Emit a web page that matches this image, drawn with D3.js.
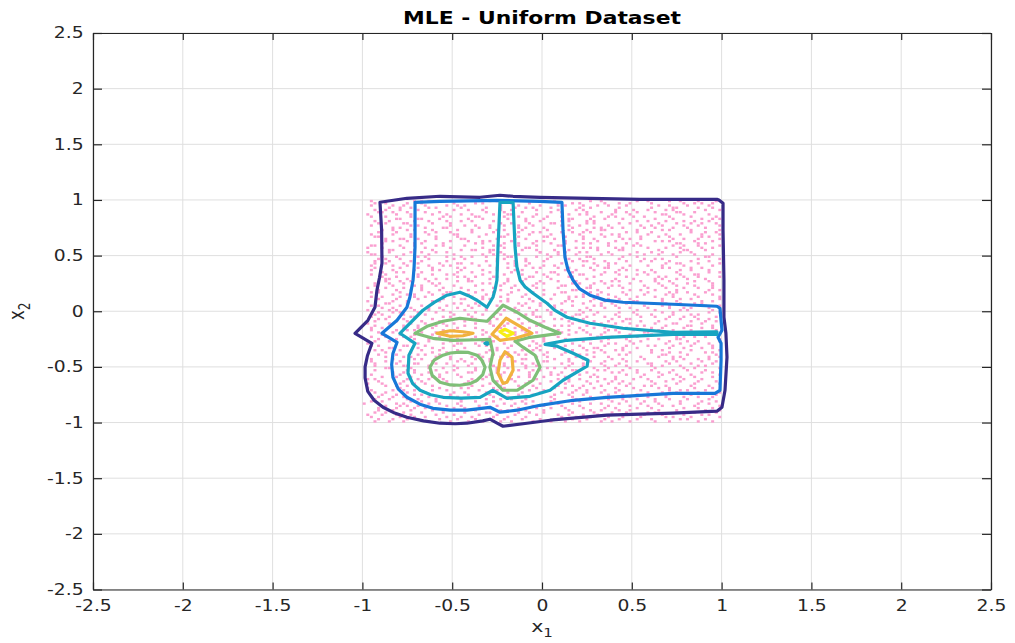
<!DOCTYPE html>
<html>
<head>
<meta charset="utf-8">
<script src="https://cdn.jsdelivr.net/npm/d3@7"></script>
<style>
  body { margin: 0; background: #fff; }
  svg { display: block; }
</style>
</head>
<body>
<svg id="chart" width="1015" height="643"></svg>
<script>
// ---- tick values ----
const xTicks = [-2.5, -2, -1.5, -1, -0.5, 0, 0.5, 1, 1.5, 2, 2.5];
const yTicks = [-2.5, -2, -1.5, -1, -0.5, 0, 0.5, 1, 1.5, 2, 2.5];

// ---- uniform sample on [-1,1]^2, stored row by row on a 0.02 grid ----
// row r holds the x-cell indices (0..99) of the samples in y-cell r
const sampleRows = [
"07 93 41 18 66 29 85 52 03 74 38 11 97 60 24 81 47 69 33 56",
"15 62 88 04 39 71 26 53 95 12 80 44 67 31 08 58 76 21 90 49",
"02 36 77 59 14 91 45 23 68 84 10 55 99 30 72 17 63 40 86 27",
"48 09 83 61 25 96 37 70 13 54 89 05 42 78 20 65 32 94 57 01",
"73 28 50 16 87 43 64 06 98 35 79 22 58 11 92 46 69 34 81 03",
"19 57 82 40 08 66 95 31 74 13 50 87 26 63 04 38 99 71 45 22",
"61 04 35 89 52 17 76 43 28 93 09 67 14 80 56 33 70 48 97 25",
"86 23 47 10 68 99 32 55 79 06 41 15 92 60 27 74 50 83 37 12",
"34 71 09 58 93 26 45 82 18 63 00 77 39 54 88 21 66 11 96 42",
"52 88 16 73 31 05 60 94 44 27 81 13 69 36 98 57 20 78 02 47",
"27 45 90 12 64 38 81 07 53 76 20 96 34 59 15 85 41 68 03 72",
"93 11 58 36 79 22 04 67 89 45 31 74 08 52 26 97 63 40 18 84",
"05 68 29 84 47 91 16 53 35 72 98 24 61 09 80 43 14 57 76 38",
"40 79 62 03 25 55 87 12 70 34 49 93 17 83 58 06 28 99 44 66",
"77 32 14 95 59 08 42 71 23 88 62 37 02 50 19 90 67 46 11 85",
"10 53 85 27 70 44 97 36 01 64 15 82 56 29 75 39 92 21 60 48",
"66 19 43 78 06 91 30 58 84 12 47 73 25 96 38 61 09 54 80 33",
"28 87 01 49 63 17 74 92 39 56 05 81 68 14 45 23 99 35 71 10",
"84 42 69 23 98 52 11 37 65 80 29 04 93 46 72 57 16 88 31 62",
"01 75 33 57 15 86 48 22 94 41 67 18 79 03 60 30 54 12 89 70",
"56 13 92 70 34 05 63 88 27 50 97 43 21 77 09 82 38 65 46 19",
"38 64 21 99 46 78 10 52 83 16 35 60 08 91 54 26 73 41 02 87",
"71 29 55 08 82 37 94 18 46 69 23 85 52 11 39 97 62 30 76 14",
"12 90 47 65 20 58 03 76 31 95 72 49 14 37 86 59 25 80 43 67",
"99 37 74 26 51 13 68 40 89 07 56 22 81 64 31 45 06 92 18 53",
"45 03 18 83 67 95 29 61 12 48 80 36 70 25 93 11 57 73 39 88",
"23 80 61 39 09 44 85 15 58 97 30 66 03 79 47 20 91 55 14 71",
"67 51 06 94 73 28 50 87 35 19 63 10 42 98 57 84 33 02 76 26",
"08 24 96 57 31 69 14 45 78 02 89 53 27 61 16 72 44 86 35 93",
"59 86 40 11 88 20 77 33 64 51 06 96 38 13 82 48 68 24 99 30",
"32 15 73 50 04 62 39 98 21 84 45 71 17 55 90 09 36 60 83 43",
"80 58 27 85 42 97 23 56 06 67 34 13 88 40 74 29 51 95 19 64",
"16 72 49 03 66 35 91 10 80 44 99 58 26 70 05 37 83 47 62 21",
"94 40 85 64 19 53 07 72 37 28 61 89 48 15 65 97 22 76 08 55",
"41 97 12 32 79 86 60 25 49 91 17 04 73 56 34 81 67 11 46 02",
"75 26 63 48 01 22 43 84 96 58 70 39 92 31 09 53 15 88 27 68",
"03 61 34 77 90 47 18 66 13 33 85 55 07 99 42 24 74 50 93 36",
"50 09 88 20 56 73 99 30 41 79 04 26 63 87 18 68 44 14 59 82",
"87 46 02 69 37 11 54 95 71 24 50 92 35 21 76 06 89 31 65 13",
"29 83 57 14 95 63 28 42 05 87 66 19 80 46 53 33 10 97 39 74",
"62 34 79 42 23 04 86 71 59 16 93 45 29 08 67 90 55 20 78 48",
"14 68 25 91 54 39 12 82 33 75 09 61 98 44 22 57 86 02 37 70",
"97 05 46 60 11 80 67 26 89 51 38 15 73 02 94 19 64 42 83 31",
"36 57 90 23 76 15 48 03 62 97 28 84 53 69 39 11 78 55 20 91",
"70 22 13 86 44 58 94 35 17 66 81 07 40 25 87 63 31 74 01 49",
"09 91 64 35 03 82 21 57 46 28 72 98 16 60 50 34 95 12 68 77",
"53 40 31 74 88 27 69 11 93 04 55 43 84 19 73 26 06 61 37 96",
"81 14 98 07 62 49 36 77 24 85 13 67 58 89 30 02 48 92 71 22",
"25 76 52 45 17 93 05 64 38 70 91 29 03 47 11 80 59 33 86 60",
"47 31 83 61 99 10 75 20 52 08 42 86 65 37 96 56 15 71 24 04",
"90 63 07 28 51 34 97 48 81 14 60 22 76 09 43 88 39 01 55 18",
"18 85 42 96 26 71 13 89 30 62 05 53 34 91 67 21 79 46 08 74",
"64 02 70 53 85 44 29 16 99 37 78 10 49 23 58 95 04 83 32 66",
"31 49 19 80 07 66 55 92 43 73 25 88 12 69 84 06 45 27 94 61",
"76 94 58 12 38 21 83 50 67 01 47 32 97 56 19 75 63 08 40 87",
"04 27 35 68 91 57 40 74 09 88 15 71 28 83 46 64 22 99 52 33",
"57 70 86 33 14 99 61 25 76 44 93 05 59 38 02 30 81 17 65 10",
"22 12 50 78 65 08 92 45 34 19 68 84 40 14 73 53 97 61 86 29",
"85 55 23 02 47 79 18 63 95 56 31 24 87 72 10 41 66 36 04 90",
"43 38 96 59 29 87 04 81 16 65 77 50 21 46 99 09 33 74 58 13",
"11 79 62 41 72 16 54 06 48 93 36 63 84 01 27 68 89 22 45 97",
"69 16 08 87 55 42 31 97 63 25 03 78 47 92 56 14 71 38 83 20",
"35 60 74 19 97 64 86 39 07 50 82 11 33 58 21 90 48 03 67 44",
"92 44 29 66 10 30 69 13 85 71 54 40 96 26 77 49 18 81 06 59",
"20 07 81 52 83 95 23 58 40 06 17 87 62 35 90 12 75 45 29 70",
"58 89 46 05 36 73 47 84 28 99 64 31 09 51 15 82 57 26 93 37",
"06 33 15 93 61 25 79 02 71 54 39 92 19 76 44 66 23 60 88 50",
"78 67 53 30 09 48 11 96 35 81 26 58 70 43 87 05 52 99 16 41",
"44 21 88 71 80 02 56 37 59 14 91 76 42 08 64 33 96 19 73 27",
"15 94 37 47 26 68 85 19 03 63 49 10 83 67 28 57 40 72 54 91",
"83 50 65 24 42 89 32 74 53 22 08 45 97 18 61 79 12 35 02 68",
"26 06 03 84 93 15 64 40 87 46 70 27 55 30 99 21 68 88 42 11",
"61 73 42 58 67 37 07 91 23 77 34 96 13 85 50 45 03 62 80 16",
"37 18 78 10 04 81 45 60 14 57 83 64 28 39 06 93 51 25 71 99",
"95 41 27 63 52 23 96 09 72 30 48 15 87 62 40 17 76 56 34 05",
"02 82 59 36 18 74 33 51 97 86 11 39 66 03 78 54 25 92 43 69",
"49 56 91 16 76 54 20 68 38 01 62 83 23 49 13 88 35 07 60 80",
"72 30 14 89 35 07 82 27 65 44 95 53 08 71 57 31 90 48 19 36",
"17 65 70 45 88 61 39 94 11 59 24 79 46 97 33 72 05 84 63 01",
"54 03 36 77 48 99 14 55 86 20 43 02 75 28 68 10 89 38 22 93",
"88 95 52 22 05 33 73 16 43 68 87 61 31 56 93 47 63 14 76 39",
"33 48 85 56 70 12 59 81 29 92 06 35 17 83 41 24 50 97 08 65",
"74 11 06 93 27 86 42 64 77 10 53 72 99 37 15 61 28 45 89 20",
"13 77 43 38 96 50 03 32 56 85 71 20 61 04 82 39 94 67 51 26",
"60 25 99 69 13 40 88 71 08 34 46 94 26 66 52 18 79 02 42 84",
"91 61 20 04 58 76 24 47 95 63 30 09 80 43 73 98 36 55 17 49",
"39 08 67 83 37 19 66 99 51 26 85 57 12 91 05 30 62 76 44 14",
"66 86 32 50 81 64 10 35 22 78 17 43 69 58 90 45 08 23 95 72",
"24 39 77 15 43 28 93 83 60 47 99 68 35 02 55 80 13 89 31 57",
"82 52 11 94 64 91 46 06 74 12 38 24 87 71 19 62 53 41 04 98",
"07 18 57 62 23 55 30 79 89 96 64 76 03 49 36 14 92 27 84 45",
"50 97 45 29 99 09 72 57 16 40 81 33 58 15 94 67 21 63 10 86",
"98 32 24 75 31 70 51 13 64 85 02 47 91 39 22 78 06 55 68 43",
"30 69 89 41 09 36 84 62 48 23 57 13 74 27 83 01 40 96 19 60",
"76 04 62 08 73 88 17 39 92 55 21 66 44 81 05 52 70 34 87 12",
"41 84 10 54 48 25 99 70 33 06 79 95 15 59 38 86 29 61 03 75",
"13 47 93 86 20 60 42 87 07 71 34 18 52 27 97 63 45 10 80 38",
"68 26 38 17 85 02 65 28 56 43 90 73 08 96 61 11 82 49 23 54",
"89 60 71 97 54 46 12 94 31 80 16 41 67 33 74 25 58 03 92 06",
"35 14 53 32 16 79 37 02 85 66 50 88 27 63 47 93 18 76 39 98"
];
const sampleCell = 0.02;     // grid step of the sample store
const sampleOrigin = -1;     // lower-left corner of the sample square

// ---- MLE density contours, one list of [x1, x2] vertices per closed curve ----
// level 1 (lowest density, outermost)
const level1Contour = [
  [-0.902,0.979],[-0.893,0.728],[-0.891,0.431],[-0.905,0.300],[-0.919,0.189],[-0.930,0.036],[-0.969,-0.081],
  [-1.041,-0.198],[-0.947,-0.288],[-0.972,-0.400],[-0.985,-0.500],[-0.985,-0.600],[-0.970,-0.720],
  [-0.935,-0.800],[-0.885,-0.863],[-0.820,-0.915],[-0.752,-0.952],[-0.660,-0.985],[-0.568,-1.006],
  [-0.484,-1.011],[-0.418,-1.006],[-0.330,-0.985],[-0.290,-0.970],[-0.250,-1.005],[-0.217,-1.033],
  [-0.084,-1.006],[0.045,-0.979],[0.362,-0.934],[0.729,-0.916],[0.974,-0.898],[1.002,-0.863],
  [1.019,-0.710],[1.030,-0.413],[1.024,-0.198],[1.013,-0.054],[1.013,0.279],[1.008,0.728],
  [1.008,0.970],[0.985,1.000],[0.974,1.006],[0.546,1.006],[0.267,1.015],[-0.011,1.024],[-0.161,1.033],
  [-0.234,1.042],[-0.345,1.024],[-0.568,1.033],[-0.752,1.015]
];
// level 2
const level2Contour = [
  [-0.707,0.979],[-0.707,0.575],[-0.712,0.400],[-0.718,0.279],[-0.735,0.130],[-0.752,0.036],[-0.807,-0.081],
  [-0.891,-0.198],[-0.807,-0.279],[-0.830,-0.380],[-0.837,-0.480],[-0.830,-0.593],[-0.800,-0.700],
  [-0.752,-0.773],[-0.680,-0.835],[-0.607,-0.872],[-0.510,-0.889],[-0.418,-0.889],
  [-0.290,-0.863],[-0.234,-0.907],[-0.139,-0.889],[-0.011,-0.845],[0.173,-0.800],[0.362,-0.773],
  [0.546,-0.755],[0.729,-0.737],[0.963,-0.737],[0.991,-0.710],[0.997,-0.440],[0.997,-0.288],
  [0.980,-0.234],[1.002,-0.171],[0.991,0.027],[0.974,0.045],[0.729,0.063],[0.451,0.081],
  [0.350,0.100],[0.267,0.144],[0.210,0.200],[0.173,0.279],[0.145,0.370],[0.128,0.485],[0.117,0.728],
  [0.111,0.979],[-0.011,0.988],[-0.251,0.997],[-0.568,0.988]
];
// level 3
const level3Contour = [
  [-0.234,0.979],[-0.245,0.575],[-0.251,0.279],[-0.262,0.190],[-0.273,0.126],[-0.306,0.036],[-0.362,0.099],
  [-0.410,0.140],[-0.457,0.171],[-0.529,0.144],[-0.600,0.080],[-0.663,0.009],[-0.791,-0.198],[-0.707,-0.288],
  [-0.741,-0.395],[-0.746,-0.557],[-0.720,-0.650],[-0.679,-0.710],[-0.620,-0.750],[-0.551,-0.773],
  [-0.450,-0.780],[-0.345,-0.773],[-0.273,-0.710],[-0.195,-0.782],[-0.067,-0.764],[0.045,-0.710],
  [0.117,-0.620],[0.251,-0.494],[0.256,-0.440],[0.173,-0.377],[0.084,-0.314],[0.017,-0.297],
  [0.139,-0.261],[0.362,-0.234],[0.729,-0.207],[0.974,-0.207],[0.974,-0.184],[0.729,-0.189],
  [0.451,-0.153],[0.267,-0.108],[0.139,-0.054],[0.070,0.010],[0.028,0.072],[-0.050,0.162],
  [-0.095,0.220],[-0.122,0.279],[-0.140,0.400],[-0.150,0.575],[-0.161,0.979]
];
const level3Spot = [
  [-0.318,-0.288],[-0.306,-0.278],[-0.294,-0.288],[-0.306,-0.298]
];
// level 4
const level4Loop = [
  [-0.707,-0.198],[-0.640,-0.135],[-0.551,-0.090],[-0.457,-0.063],[-0.362,-0.081],[-0.306,-0.090],
  [-0.262,-0.018],[-0.217,0.054],[-0.139,-0.009],[-0.067,-0.081],[0.017,-0.144],[0.100,-0.198],
  [0.017,-0.216],[-0.067,-0.234],[-0.150,-0.270],[-0.106,-0.323],[-0.039,-0.395],[-0.011,-0.503],
  [-0.050,-0.620],[-0.139,-0.710],[-0.217,-0.710],[-0.273,-0.620],[-0.290,-0.503],[-0.273,-0.377],
  [-0.290,-0.252],[-0.362,-0.256],[-0.496,-0.261],[-0.607,-0.243]
];
const level4Ellipse = [
  [-0.624,-0.503],[-0.612,-0.575],[-0.568,-0.638],[-0.510,-0.662],[-0.457,-0.665],[-0.400,-0.650],
  [-0.362,-0.620],[-0.330,-0.570],[-0.317,-0.503],[-0.335,-0.440],[-0.362,-0.395],[-0.410,-0.370],
  [-0.457,-0.368],[-0.510,-0.375],[-0.551,-0.395],[-0.601,-0.440]
];
// level 5
const level5LeftLens = [
  [-0.585,-0.198],[-0.512,-0.175],[-0.440,-0.184],[-0.384,-0.198],[-0.440,-0.220],[-0.512,-0.225]
];
const level5Triangle = [
  [-0.278,-0.207],[-0.234,-0.126],[-0.200,-0.063],[-0.122,-0.135],[-0.056,-0.198],[-0.150,-0.243],
  [-0.234,-0.261]
];
const level5LowerLens = [
  [-0.206,-0.364],[-0.167,-0.413],[-0.161,-0.530],[-0.195,-0.638],[-0.217,-0.647],[-0.245,-0.557],
  [-0.234,-0.440]
];
// level 6 (highest density)
const level6Loop = [
  [-0.234,-0.184],[-0.206,-0.162],[-0.161,-0.198],[-0.195,-0.225]
];

// parula-style level colours, lowest to highest
const levelColors = ["#372b87", "#1778d8", "#17a4c1", "#7fbf78", "#f1b23e", "#f6ee12"];

// ---- layout ----
const svg = d3.select("#chart");
const plot = { left: 93, right: 991, top: 33, bottom: 589.5 };
const textStretch = "scale(1.25,1)";
const ink = "#262626";
const fontFamily = "'DejaVu Sans', 'Liberation Sans', sans-serif";

const x = d3.scaleLinear().domain([-2.5, 2.5]).range([plot.left, plot.right]);
const y = d3.scaleLinear().domain([-2.5, 2.5]).range([plot.bottom, plot.top]);

// grid
const grid = svg.append("g").attr("stroke", "#dfdfdf").attr("stroke-width", 1);
grid.selectAll("line.gx").data(xTicks).join("line").attr("class", "gx")
  .attr("x1", d => x(d)).attr("x2", d => x(d))
  .attr("y1", plot.top).attr("y2", plot.bottom);
grid.selectAll("line.gy").data(yTicks).join("line").attr("class", "gy")
  .attr("y1", d => y(d)).attr("y2", d => y(d))
  .attr("x1", plot.left).attr("x2", plot.right);

// sample points
const samples = sampleRows.flatMap((row, r) =>
  row.split(" ").map(c => [sampleOrigin + (+c + 0.5) * sampleCell,
                           sampleOrigin + (r + 0.5) * sampleCell]));
svg.append("g").attr("fill", "#fa9fd0")
  .selectAll("rect").data(samples).join("rect")
  .attr("x", d => x(d[0]) - 1.5).attr("y", d => y(d[1]) - 1.2)
  .attr("width", 3).attr("height", 2.4);

// contour lines
const contourTable = [
  { pts: level1Contour, level: 0 },
  { pts: level2Contour, level: 1 },
  { pts: level3Contour, level: 2 },
  { pts: level3Spot, level: 2 },
  { pts: level4Loop, level: 3 },
  { pts: level4Ellipse, level: 3 },
  { pts: level5LeftLens, level: 4 },
  { pts: level5Triangle, level: 4 },
  { pts: level5LowerLens, level: 4 },
  { pts: level6Loop, level: 5 }
];
const contourLine = d3.line()
  .x(d => x(d[0])).y(d => y(d[1]))
  .curve(d3.curveLinearClosed);
svg.append("g").attr("fill", "none").attr("stroke-linejoin", "round")
  .selectAll("path").data(contourTable).join("path")
  .attr("d", d => contourLine(d.pts))
  .attr("stroke", d => levelColors[d.level])
  .attr("stroke-width", 3.2);

// axes (ticks point inward, box on all four sides)
const fmt = d => String(d);
function styleAxis(g) {
  g.attr("font-family", fontFamily).attr("font-size", 15);
  g.select(".domain").attr("stroke", ink).attr("stroke-width", 1.2);
  g.selectAll(".tick line").attr("stroke", ink).attr("stroke-width", 1.2);
  g.selectAll(".tick text").attr("fill", ink);
}
svg.append("g").attr("transform", `translate(0,${plot.bottom})`)
  .call(d3.axisBottom(x).tickValues(xTicks).tickFormat(fmt)
    .tickSizeInner(-7).tickSizeOuter(0).tickPadding(11))
  .call(styleAxis)
  .call(g => g.selectAll(".tick text").attr("transform", textStretch));
svg.append("g").attr("transform", `translate(0,${plot.top})`)
  .call(d3.axisTop(x).tickValues(xTicks).tickFormat("")
    .tickSizeInner(-7).tickSizeOuter(0))
  .call(styleAxis);
svg.append("g").attr("transform", `translate(${plot.left},0)`)
  .call(d3.axisLeft(y).tickValues(yTicks).tickFormat(fmt)
    .tickSizeInner(-9).tickSizeOuter(0).tickPadding(7.5))
  .call(styleAxis)
  .call(g => g.selectAll(".tick text").attr("transform", textStretch));
svg.append("g").attr("transform", `translate(${plot.right},0)`)
  .call(d3.axisRight(y).tickValues(yTicks).tickFormat("")
    .tickSizeInner(-9).tickSizeOuter(0))
  .call(styleAxis);

// title
svg.append("text")
  .attr("transform", `translate(${(plot.left + plot.right) / 2},24) ${textStretch}`)
  .attr("text-anchor", "middle").attr("font-family", fontFamily)
  .attr("font-weight", "bold").attr("font-size", 17.5).attr("fill", "#000")
  .text("MLE - Uniform Dataset");

// axis labels with subscripts
const xLabel = svg.append("text")
  .attr("transform", `translate(${x(0)},632) ${textStretch}`)
  .attr("text-anchor", "middle").attr("font-family", fontFamily)
  .attr("font-size", 16.5).attr("fill", ink);
xLabel.append("tspan").text("x");
xLabel.append("tspan").attr("dy", 5).attr("font-size", 12).text("1");

const yLabel = svg.append("text")
  .attr("transform", `translate(24,${y(0)}) ${textStretch} rotate(-90)`)
  .attr("text-anchor", "middle").attr("font-family", fontFamily)
  .attr("font-size", 16.5).attr("fill", ink);
yLabel.append("tspan").text("x");
yLabel.append("tspan").attr("dy", 5).attr("font-size", 12).text("2");
</script>
</body>
</html>
